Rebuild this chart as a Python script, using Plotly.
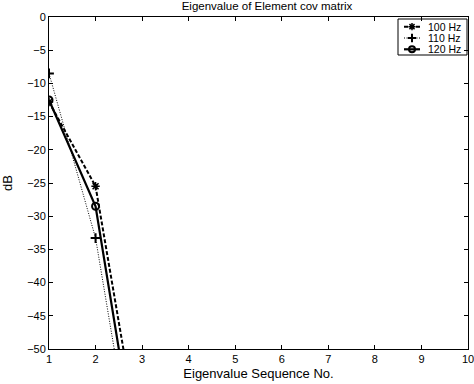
import plotly.graph_objects as go

eig_no = [1, 2, 3]
db_100 = [-12.8, -25.5, -66.5]
db_110 = [-8.5, -33.3, -75.0]
db_120 = [-12.5, -28.5, -71.5]
series_names = ["100 Hz", "110 Hz", "120 Hz"]
x_ticks = [1, 2, 3, 4, 5, 6, 7, 8, 9, 10]
y_ticks = [0, -5, -10, -15, -20, -25, -30, -35, -40, -45, -50]

FONT = "Liberation Sans"
line_styles = [
    dict(color="black", width=2, dash="4px,2px"),
    dict(color="black", width=1, dash="1px,1.5px"),
    dict(color="black", width=2.2),
]
marker_styles = [
    dict(symbol="asterisk-open", color="black", line=dict(color="black", width=1.5)),
    dict(symbol="cross-thin-open", color="black", line=dict(color="black", width=2)),
    dict(symbol="circle-open", color="black", line=dict(color="black", width=2)),
]
plot_sizes = [7, 7, 7]
legend_sizes = [6, 6, 6]

fig = go.Figure()
for name, ys, ls, ms, sz in zip(series_names, [db_100, db_110, db_120], line_styles, marker_styles, plot_sizes):
    fig.add_trace(go.Scatter(x=eig_no, y=ys, name=name, mode="lines+markers",
                             showlegend=False, line=ls, marker=dict(size=sz, **ms)))

# Compact legend drawn on an overlay axis measured in pixels of the plot area
L, R, T, B = 49, 468, 17, 349
box = dict(x0=398, x1=467, y0=19, y1=55)
row_y = [26.7, 38.0, 49.3]
for name, yy, ls, ms, sz in zip(series_names, row_y, line_styles, marker_styles, legend_sizes):
    fig.add_trace(go.Scatter(x=[404, 420], y=[yy, yy], mode="lines", line=ls,
                             xaxis="x2", yaxis="y2", showlegend=False, hoverinfo="skip"))
    fig.add_trace(go.Scatter(x=[412], y=[yy], mode="markers", marker=dict(size=sz, **ms),
                             xaxis="x2", yaxis="y2", showlegend=False, hoverinfo="skip"))
    fig.add_annotation(x=426, y=yy, xref="x2", yref="y2", text=name, showarrow=False,
                       xanchor="left", yanchor="middle",
                       font=dict(family=FONT, size=10.5, color="black"))
fig.add_shape(type="rect", xref="x2", yref="y2", line=dict(color="black", width=1),
              fillcolor="rgba(0,0,0,0)", layer="above", **box)

axis_common = dict(showgrid=False, zeroline=False, showline=True, linecolor="black",
                   linewidth=1, mirror="ticks", ticks="inside", ticklen=4,
                   tickcolor="black", automargin=False, ticklabeloverflow="allow",
                   tickfont=dict(family=FONT, size=11, color="black"))

fig.update_layout(
    width=474, height=384,
    margin=dict(l=L, r=474 - R, t=T, b=384 - B, pad=0),
    paper_bgcolor="white", plot_bgcolor="white",
    title=dict(text="Eigenvalue of Element cov matrix", x=267 / 474, xanchor="center",
               y=1 - 5.5 / 384, yanchor="middle",
               font=dict(family=FONT, size=11.5, color="black")),
    xaxis=dict(range=[1, 10], tickvals=x_ticks, **axis_common,
               title=dict(text="Eigenvalue Sequence No.", standoff=4,
                          font=dict(family=FONT, size=13, color="black"))),
    yaxis=dict(range=[-50, 0], tickvals=y_ticks, **axis_common,
               title=dict(text="dB", standoff=16,
                          font=dict(family=FONT, size=13, color="black"))),
    xaxis2=dict(range=[L, R], overlaying="x", visible=False, fixedrange=True),
    yaxis2=dict(range=[B, T], overlaying="y", visible=False, fixedrange=True),
    showlegend=False,
)

fig.write_html("out.html", config={"displayModeBar": False},
               post_script="document.body.style.margin='0px';document.body.style.overflow='hidden';")
